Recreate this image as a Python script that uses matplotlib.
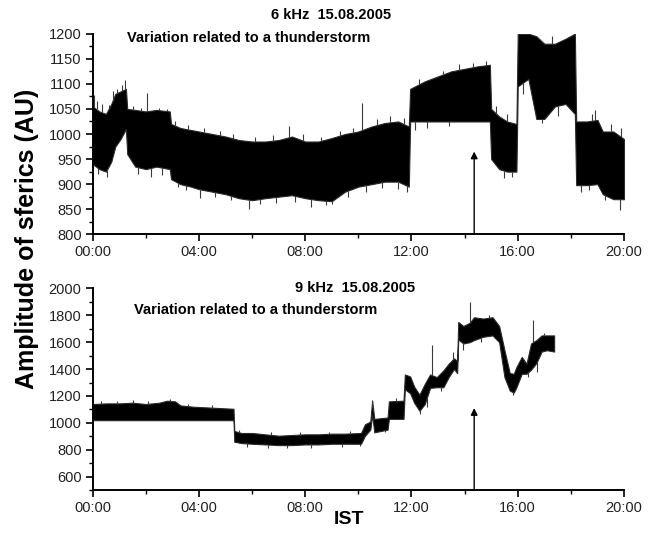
import bisect
import matplotlib
matplotlib.use("Agg")
import matplotlib.pyplot as plt
from matplotlib.ticker import MultipleLocator, FuncFormatter

plt.rcParams['font.family'] = ['Liberation Sans', 'DejaVu Sans']

# ---- 6 kHz record: time (h, IST) with upper / lower envelope of the sferics amplitude
t6 = [0.00, 0.25, 0.50, 0.70, 0.85, 1.05, 1.25, 1.30, 1.60, 2.00, 2.40, 2.90, 2.95,
      3.30, 3.70, 4.00, 4.50, 5.00, 5.50, 6.00, 6.50, 7.00, 7.50, 8.00, 8.50, 9.00,
      9.50, 10.00, 10.50, 11.00, 11.50, 11.90, 11.95, 12.50, 13.00, 13.50, 14.00,
      14.50, 14.95, 15.00, 15.30, 15.60, 15.95, 16.00, 16.40, 16.70, 17.00, 17.40,
      17.80, 18.15, 18.20, 18.60, 19.00, 19.20, 19.60, 20.00]
hi6 = [1055, 1045, 1040, 1060, 1080, 1085, 1090, 1050, 1048, 1045, 1048, 1045, 1020,
       1012, 1008, 1005, 1000, 995, 988, 985, 985, 988, 995, 985, 985, 992,
       1000, 1005, 1015, 1022, 1025, 1015, 1090, 1105, 1115, 1125, 1130,
       1135, 1138, 1050, 1035, 1025, 1020, 1200, 1200, 1195, 1180, 1180,
       1190, 1200, 1025, 1025, 1028, 1005, 1005, 990]
lo6 = [940, 930, 925, 945, 975, 990, 1010, 960, 935, 930, 935, 930, 910,
       900, 895, 890, 885, 880, 872, 868, 872, 875, 878, 872, 868, 866,
       885, 895, 900, 905, 905, 895, 1025, 1025, 1025, 1025, 1025,
       1025, 1025, 950, 930, 925, 925, 1095, 1110, 1030, 1030, 1055,
       1060, 1040, 898, 898, 900, 880, 870, 870]

# isolated excursions beyond the envelope (time, value)
spk6_t = [0.05, 0.15, 0.35, 0.60, 0.75, 0.90, 1.10, 1.20, 1.50, 1.80, 2.03, 2.50,
          2.80, 3.10, 3.60, 4.20, 4.80, 5.30, 6.10, 6.80, 7.40, 7.90, 8.60, 9.30,
          9.80, 10.12, 10.70, 11.20, 11.70, 12.30, 13.20, 13.80, 14.30, 14.80,
          15.20, 15.60, 17.30, 18.80, 18.90, 19.50, 19.90,
          0.20, 0.55, 1.70, 2.20, 2.60, 3.20, 3.50, 4.04, 4.60, 5.20, 5.90, 6.30,
          6.90, 7.60, 8.20, 8.80, 9.00, 9.60, 10.30, 10.90, 11.50, 11.85, 12.15,
          12.60, 13.40, 15.50, 15.80, 16.20, 16.90, 17.50, 18.40, 18.70, 19.30,
          19.85]
spk6_v = [1078, 1065, 1060, 1058, 1085, 1090, 1098, 1108, 1055, 1052, 1082, 1052,
          1050, 1025, 1018, 1012, 1005, 1000, 995, 998, 1015, 1000, 995, 1005,
          1012, 1062, 1030, 1035, 1032, 1110, 1125, 1140, 1142, 1145,
          1055, 1040, 1195, 1040, 1048, 1020, 1012,
          920, 915, 920, 915, 918, 895, 888, 872, 875, 868, 850, 860,
          862, 865, 855, 858, 860, 875, 885, 892, 890, 885, 1008,
          1012, 1015, 912, 915, 1080, 1022, 1035, 885, 888, 868,
          848]

# ---- 9 kHz record
t9 = [0.00, 0.50, 1.00, 1.50, 2.00, 2.50, 2.80, 3.10, 3.30, 3.80, 4.30, 4.80, 5.30,
      5.33, 5.60, 6.00, 6.50, 7.00, 7.50, 8.00, 8.50, 9.00, 9.50, 10.10, 10.25,
      10.45, 10.52, 10.60, 11.10, 11.15, 11.70, 11.75, 11.95, 12.10, 12.30, 12.50,
      12.70, 12.95, 13.20, 13.40, 13.60, 13.72, 13.76, 13.95, 14.20, 14.35, 14.70,
      15.05, 15.30, 15.50, 15.70, 15.85, 15.95, 16.15, 16.33, 16.50, 16.70, 16.90,
      17.10, 17.37]
hi9 = [1140, 1145, 1145, 1150, 1140, 1150, 1165, 1160, 1130, 1120, 1115, 1110, 1105,
       940, 925, 925, 915, 905, 910, 915, 915, 920, 920, 925, 990,
       1010, 1165, 1030, 1040, 1160, 1165, 1360, 1345, 1270, 1210, 1290,
       1360, 1340, 1390, 1440, 1480, 1460, 1750, 1720, 1745, 1785, 1775,
       1785, 1720, 1540, 1370, 1365, 1415, 1490, 1440, 1590, 1615, 1650,
       1650, 1650]
lo9 = [1020, 1020, 1020, 1020, 1020, 1020, 1020, 1020, 1020, 1020, 1020, 1020, 1020,
       860, 850, 845, 840, 835, 835, 840, 840, 845, 845, 845, 905,
       950, 1060, 930, 950, 1030, 1030, 1250, 1220, 1150, 1090, 1140,
       1260, 1265, 1265, 1340, 1400, 1370, 1620, 1590, 1600, 1615, 1640,
       1650, 1600, 1340, 1240, 1225, 1265, 1365, 1365, 1395, 1445, 1530,
       1540, 1530]

spk9_t = [0.30, 0.90, 1.50, 2.10, 2.90, 3.60, 4.50, 5.50, 6.70, 7.80, 8.90, 9.70,
          10.50, 11.40, 12.79, 13.57, 14.19, 14.90, 16.58, 17.00,
          5.80, 6.60, 7.30, 8.20, 9.40, 10.05, 11.00, 12.31, 12.60, 13.10,
          13.95, 14.60, 15.83, 16.40, 16.71]
spk9_v = [1160, 1165, 1170, 1160, 1180, 1140, 1130, 950, 935, 930, 935, 940,
          1170, 1185, 1578, 1529, 1901, 1800, 1764, 1670,
          820, 815, 810, 815, 820, 825, 935, 1065, 1120, 1240,
          1540, 1600, 1210, 1340, 1380]

# time of the thunderstorm marker and arrow tips
t_storm = 14.36
arrow_top6 = 965
arrow_top9 = 1110

W, H = 656, 539
fig = plt.figure(figsize=(W / 100, H / 100), dpi=100)


def box(x0, y0, x1, y1):
    return [x0 / W, 1 - y1 / H, (x1 - x0) / W, (y1 - y0) / H]


def hhmm(v, pos):
    return "%02d:00" % int(round(v))


def style(ax, ylo, yhi, major, minor):
    ax.set_xlim(0, 20)
    ax.set_ylim(ylo, yhi)
    for s in ("top", "right"):
        ax.spines[s].set_visible(False)
    for s in ("left", "bottom"):
        ax.spines[s].set_linewidth(1.4)
    ax.xaxis.set_major_locator(MultipleLocator(4))
    ax.xaxis.set_minor_locator(MultipleLocator(2))
    ax.xaxis.set_major_formatter(FuncFormatter(hhmm))
    ax.yaxis.set_major_locator(MultipleLocator(major))
    ax.yaxis.set_minor_locator(MultipleLocator(minor))
    ax.tick_params(which="major", direction="out", length=5, width=1.2,
                   labelsize=10.5, labelcolor="#222222", pad=3)
    ax.tick_params(which="minor", direction="out", length=3, width=1.0)


def trace(ax, t, hi, lo, st, sv):
    ax.fill_between(t, lo, hi, color="black", linewidth=0.8, edgecolor="#2a2a2a")
    base = []
    for x, v in zip(st, sv):
        # attach each excursion to the envelope edge on its side
        i = min(max(bisect.bisect_left(t, x), 1), len(t) - 1)
        f = (x - t[i - 1]) / (t[i] - t[i - 1]) if t[i] != t[i - 1] else 0
        h = hi[i - 1] + f * (hi[i] - hi[i - 1])
        l = lo[i - 1] + f * (lo[i] - lo[i - 1])
        base.append(h if v > h else l)
    ax.vlines(st, base, sv, color="#3a3a3a", linewidth=0.8)


ax1 = fig.add_axes(box(92.7, 33.7, 624, 234.3))
style(ax1, 800, 1200, 50, 25)
trace(ax1, t6, hi6, lo6, spk6_t, spk6_v)
ax1.annotate("", xy=(t_storm, arrow_top6), xytext=(t_storm, 800),
             arrowprops=dict(arrowstyle="-|>", color="black", lw=1.0,
                             mutation_scale=10, shrinkA=0, shrinkB=0))

ax2 = fig.add_axes(box(92.7, 288.3, 624, 490.2))
style(ax2, 500, 2000, 200, 100)
trace(ax2, t9, hi9, lo9, spk9_t, spk9_v)
ax2.annotate("", xy=(t_storm, arrow_top9), xytext=(t_storm, 500),
             arrowprops=dict(arrowstyle="-|>", color="black", lw=1.0,
                             mutation_scale=10, shrinkA=0, shrinkB=0))

bold = dict(fontweight="bold", ha="center", va="center")
fig.text(331 / W, 1 - 15 / H, "6 kHz  15.08.2005", fontsize=10.5, **bold)
fig.text(249 / W, 1 - 38.3 / H, "Variation related to a thunderstorm", fontsize=10.5, **bold)
fig.text(355 / W, 1 - 288 / H, "9 kHz  15.08.2005", fontsize=10.5, **bold)
fig.text(256 / W, 1 - 310 / H, "Variation related to a thunderstorm", fontsize=10.5, **bold)
fig.text(27 / W, 1 - 239 / H, "Amplitude of sferics (AU)", fontsize=18,
         rotation=90, **bold)
fig.text(349 / W, 1 - 519 / H, "IST", fontsize=14, **bold)

fig.savefig("out.png", dpi=100, facecolor="white")
